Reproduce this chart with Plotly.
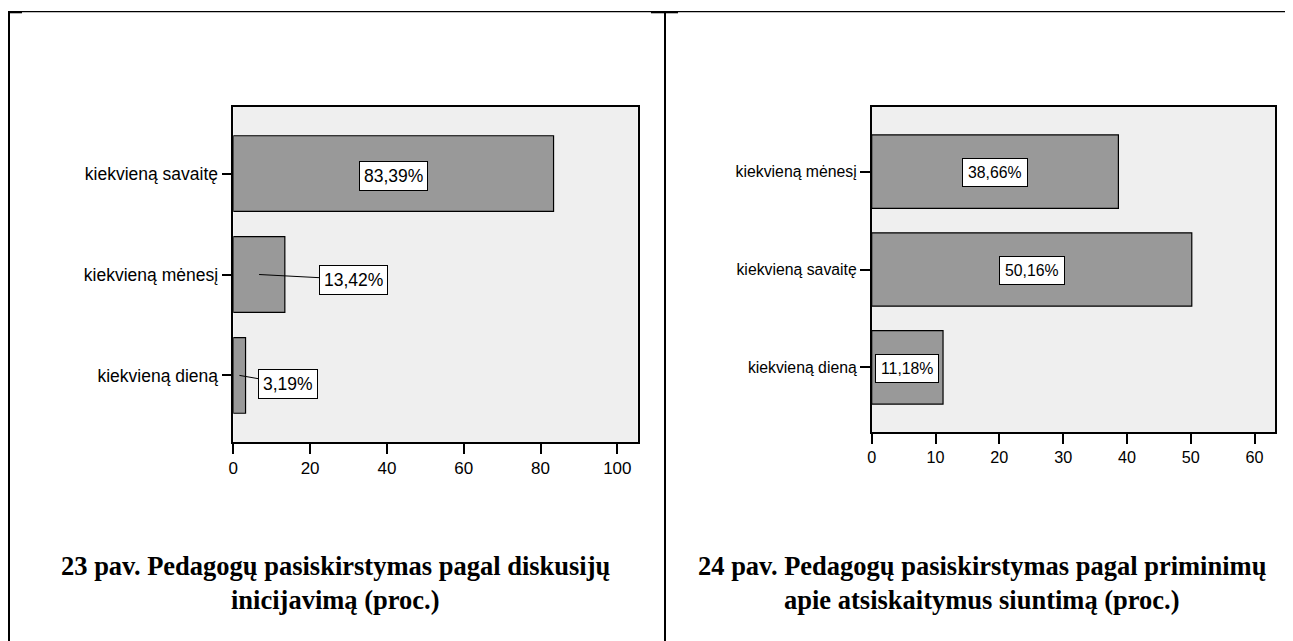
import plotly.graph_objects as go

# ---- data ----
left_categories = ["kiekvieną savaitę", "kiekvieną mėnesį", "kiekvieną dieną"]
left_values = [83.39, 13.42, 3.19]
right_categories = ["kiekvieną mėnesį", "kiekvieną savaitę", "kiekvieną dieną"]
right_values = [38.66, 50.16, 11.18]
left_ticks = [0, 20, 40, 60, 80, 100]
right_ticks = [0, 10, 20, 30, 40, 50, 60]
left_caption = ["23 pav. Pedagogų pasiskirstymas pagal diskusijų", "inicijavimą (proc.)"]
right_caption = ["24 pav. Pedagogų pasiskirstymas pagal priminimų", "apie atsiskaitymus siuntimą (proc.)"]

# page body margin (8px) is compensated by shifting the whole layout
OFF = 8
FW, FH = 1293 - OFF, 641 - OFF
def px(x):
    return (x - OFF) / FW
def py(y):
    return 1 - (y - OFF) / FH

def fmt(v):
    return f"{v:.2f}".replace(".", ",") + "%"

BAR = "#999999"
BG = "#efefef"
SANS = "Liberation Sans, Arial, sans-serif"
SERIF = "Liberation Serif, Times New Roman, serif"

fig = go.Figure()
fig.add_trace(go.Bar(x=left_values, y=left_categories, orientation="h",
                     xaxis="x", yaxis="y", width=0.75,
                     marker=dict(color=BAR, line=dict(color="black", width=1.2)),
                     hoverinfo="skip"))
fig.add_trace(go.Bar(x=right_values, y=right_categories, orientation="h",
                     xaxis="x2", yaxis="y2", width=0.75,
                     marker=dict(color=BAR, line=dict(color="black", width=1.2)),
                     hoverinfo="skip"))

axis_common = dict(showline=True, mirror=True, linecolor="black", linewidth=1.5,
                   ticks="outside", ticklen=10, tickwidth=1.5, tickcolor="black",
                   showgrid=False, zeroline=False, fixedrange=True)

fig.update_layout(
    width=FW, height=FH, margin=dict(l=0, r=0, t=0, b=0, autoexpand=False),
    paper_bgcolor="white", plot_bgcolor=BG, showlegend=False,
    xaxis=dict(domain=[px(233.3), px(637.7)], range=[0, 105.3], tickvals=left_ticks,
               anchor="y", tickfont=dict(family=SANS, size=17, color="black"), **axis_common),
    yaxis=dict(domain=[py(442), py(107)], range=[2.66, -0.66], type="category",
               categoryorder="array", categoryarray=left_categories, anchor="x",
               tickfont=dict(family=SANS, size=17.5, color="black"), **axis_common),
    xaxis2=dict(domain=[px(871.7), px(1275)], range=[0, 63.2], tickvals=right_ticks,
                anchor="y2", tickfont=dict(family=SANS, size=16.2, color="black"), **axis_common),
    yaxis2=dict(domain=[py(432), py(107)], range=[2.66, -0.66], type="category",
                categoryorder="array", categoryarray=right_categories, anchor="x2",
                tickfont=dict(family=SANS, size=15.8, color="black"), **axis_common),
)

# value labels
box = dict(bgcolor="white", bordercolor="black", borderwidth=1)
fig.add_annotation(x=left_values[0] / 2, y=left_categories[0], xref="x", yref="y",
                   text=fmt(left_values[0]), showarrow=False, yshift=-2, borderpad=4,
                   font=dict(family=SANS, size=17.5, color="black"), **box)
fig.add_annotation(x=left_values[1] / 2, y=left_categories[1], xref="x", yref="y",
                   text=fmt(left_values[1]), showarrow=True, arrowhead=0, arrowwidth=1,
                   arrowcolor="black", ax=94.5, ay=5, borderpad=4,
                   font=dict(family=SANS, size=17.5, color="black"), **box)
fig.add_annotation(x=left_values[2] / 2, y=left_categories[2], xref="x", yref="y",
                   text=fmt(left_values[2]), showarrow=True, arrowhead=0, arrowwidth=1,
                   arrowcolor="black", ax=49, ay=8.5, borderpad=4,
                   font=dict(family=SANS, size=17.5, color="black"), **box)
for v, c in zip(right_values, right_categories):
    fig.add_annotation(x=v / 2, y=c, xref="x2", yref="y2", text=fmt(v), showarrow=False,
                       borderpad=5, yshift=-1,
                       font=dict(family=SANS, size=15.8, color="black"), **box)

# captions
for cx, lines, ys in [(335.6, left_caption, [566, 600]),
                      (982, right_caption, [566, 600])]:
    for t, yy in zip(lines, ys):
        fig.add_annotation(x=px(cx), y=py(yy), xref="paper", yref="paper", text="<b>" + t + "</b>",
                           showarrow=False, xanchor="center", yanchor="middle",
                           font=dict(family=SERIF, size=26.5, color="black"))

# page frame lines
shapes = []
def line(x0, y0, x1, y1, w):
    shapes.append(dict(type="line", xref="paper", yref="paper", x0=px(x0), y0=py(y0),
                       x1=px(x1), y1=py(y1), line=dict(color="black", width=w)))
line(8, 11.7, 1293, 11.7, 1.3)
line(9, 11, 9, 641, 2)
line(665, 11, 665, 641, 2)
line(8, 12.3, 22, 12.3, 2)
line(651, 12.3, 678, 12.3, 2)
line(1287, 12.3, 1293, 12.3, 2)
fig.update_layout(shapes=shapes)

fig.write_html("out.html")
